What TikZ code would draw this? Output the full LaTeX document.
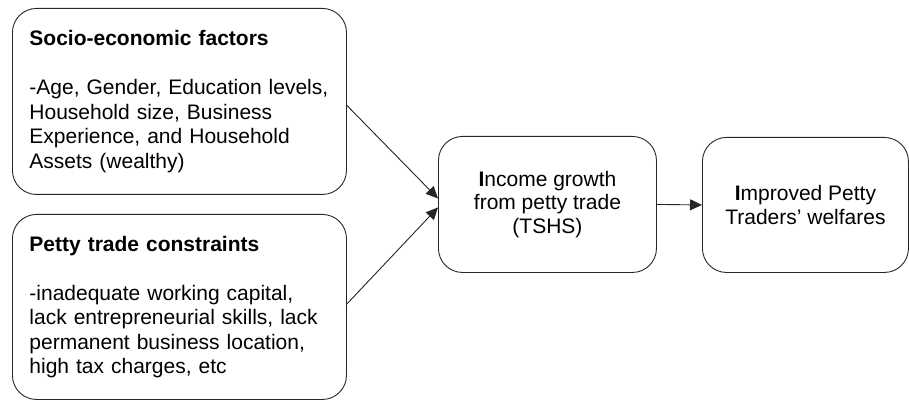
\documentclass[tikz,border=0pt]{standalone}
\usepackage{fontspec}
\setmainfont{Liberation Sans}
\usetikzlibrary{arrows.meta}
\tikzset{
  box/.style={draw=black!85, line width=0.9pt, rounded corners=24pt, inner sep=0pt},
  sidetext/.style={align=left, text width=300pt, font=\fontsize{21pt}{24.5pt}\selectfont},
  midtext/.style={align=center, font=\fontsize{21pt}{23.5pt}\selectfont},
  conn/.style={draw=black!85, line width=0.9pt, -{Triangle[length=12pt,width=11pt]}}
}
\begin{document}
\begin{tikzpicture}[x=1pt,y=1pt]
\useasboundingbox (0,0) rectangle (909,399);
\node[box, sidetext, minimum width=334pt, minimum height=186pt, anchor=north west] (b1) at (12,391)
  {\textbf{Socio-economic factors}\\[24.5pt]
   -Age, Gender, Education levels,\\
   Household size, Business\\
   Experience, and Household\\
   Assets (wealthy)};
\node[box, sidetext, minimum width=334pt, minimum height=185pt, anchor=north west] (b2) at (12,185)
  {\textbf{Petty trade constraints}\\[24.5pt]
   -inadequate working capital,\\
   lack entrepreneurial skills, lack\\
   permanent business location,\\
   high tax charges, etc};
\node[box, midtext, minimum width=218pt, minimum height=136pt, anchor=north west] (b3) at (438,263)
  {{\bfseries I}ncome growth\\from petty trade\\(TSHS)};
\node[box, midtext, minimum width=206pt, minimum height=135pt, anchor=north west] (b4) at (702,262)
  {{\bfseries I}mproved Petty\\Traders' welfares};
\draw[conn] ([yshift=-4pt]b1.east) -- ([yshift=6pt]b3.west);
\draw[conn] ([yshift=3pt]b2.east) -- ([yshift=-3pt]b3.west);
\draw[conn] (b3.east) -- (b4.west);
\end{tikzpicture}
\end{document}
